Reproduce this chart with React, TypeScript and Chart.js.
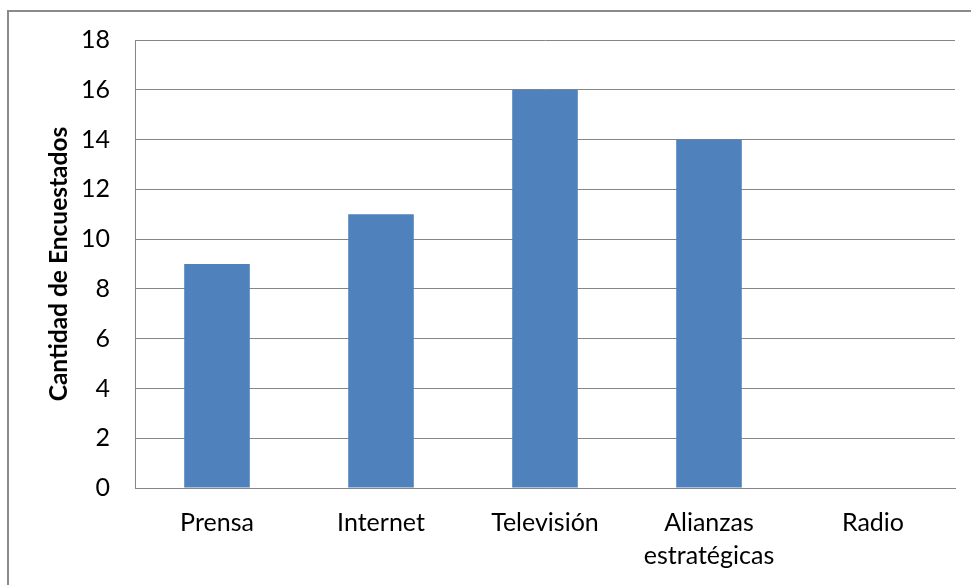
import React, { useEffect, useRef } from "react";
import { Chart, registerables } from "chart.js";

Chart.register(...registerables);

const categories: (string | string[])[] = ["Prensa", "Internet", "Televisión", ["Alianzas", "estratégicas"], "Radio"];
const values: number[] = [9, 11, 16, 14, 0];
const yTicks: number[] = [0, 2, 4, 6, 8, 10, 12, 14, 16, 18];
const yTitle = "Cantidad de Encuestados";

const frame = {
  id: "frame",
  beforeDraw(chart: any) {
    const ctx = chart.ctx;
    ctx.save();
    ctx.fillStyle = "#ffffff";
    ctx.fillRect(0, 0, chart.width, chart.height);
    ctx.strokeStyle = "#8a8a8a";
    ctx.lineWidth = 2;
    ctx.strokeRect(8, 11, 1200, 1200);
    ctx.restore();
  },
};

export default function App() {
  const ref = useRef<HTMLCanvasElement | null>(null);
  useEffect(() => {
    document.body.style.margin = "0";
    const chart = new Chart(ref.current as HTMLCanvasElement, {
      type: "bar",
      data: {
        labels: categories,
        datasets: [
          {
            data: values,
            backgroundColor: "#4F81BD",
            borderColor: "#4A7EBB",
            borderWidth: 0,
            barPercentage: 0.4,
            categoryPercentage: 1,
          },
        ],
      },
      plugins: [frame],
      options: {
        animation: false,
        responsive: false,
        maintainAspectRatio: false,
        layout: { padding: { top: 39, right: 16, left: 0, bottom: 0 } },
        plugins: { legend: { display: false }, tooltip: { enabled: false } },
        scales: {
          x: {
            grid: { display: false, drawTicks: false },
            border: { display: true, color: "#868686", width: 1 },
            ticks: {
              color: "#000000",
              font: { family: "Lato", size: 25, lineHeight: 1.3 },
              padding: 19,
              maxRotation: 0,
              autoSkip: false,
            },
            afterFit(scale: any) {
              scale.height = 97;
            },
          },
          y: {
            min: 0,
            max: 18,
            afterBuildTicks(scale: any) {
              scale.ticks = yTicks.map((v) => ({ value: v }));
            },
            grid: { color: "#868686", lineWidth: 1, drawTicks: false },
            border: { display: true, color: "#868686", width: 1 },
            ticks: {
              color: "#000000",
              font: { family: "Lato", size: 25 },
              padding: 25,
            },
            title: {
              display: true,
              text: yTitle,
              color: "#000000",
              font: { family: "Lato", size: 24.5, weight: "bold" },
              padding: { top: 44, bottom: 0 },
            },
            afterFit(scale: any) {
              scale.width = 135;
            },
          },
        },
      },
    } as any);
    return () => chart.destroy();
  }, []);
  return (
    <div style={{ position: "absolute", left: 0, top: 0, width: 971, height: 585 }}>
      <canvas ref={ref} width={971} height={585} style={{ display: "block" }} />
    </div>
  );
}
